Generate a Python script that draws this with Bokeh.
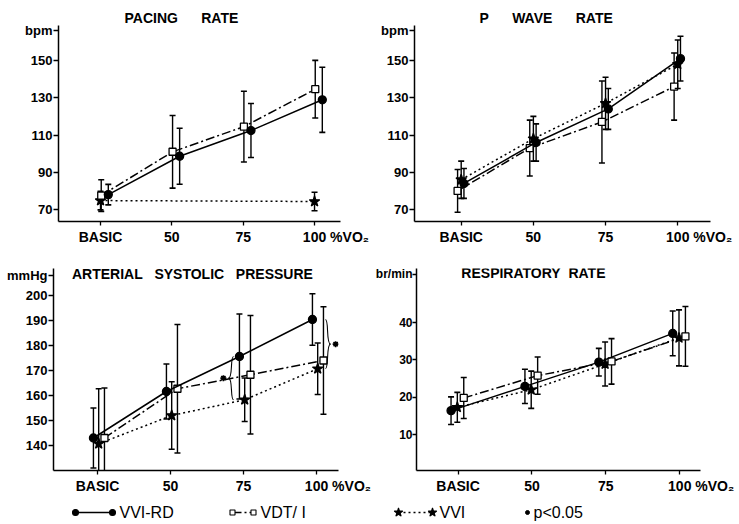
import numpy as np
from bokeh.plotting import figure
from bokeh.layouts import column, row
from bokeh.models import FixedTicker, Label, Range1d, ColumnDataSource
from bokeh.core.properties import value
from bokeh.embed import file_html
from bokeh.resources import INLINE

# ---------------- data ----------------
categories = ["BASIC", "50", "75", "100"]
vvi_pacing_categories = ["BASIC", "100"]

pacing_vvird = [78, 98.6, 112.4, 128.9]
pacing_vvird_sd = [5.5, 15, 14.5, 17.5]
pacing_vdti = [77.5, 101, 114.5, 134.6]
pacing_vdti_sd = [8.5, 19.5, 19, 15.5]
pacing_vvi = [74.8, 74.3]
pacing_vvi_sd = [5, 5]

pwave_vvird = [84, 106, 124, 151]
pwave_vvird_sd = [8, 10, 11, 12]
pwave_vdti = [80, 103, 117, 136]
pwave_vdti_sd = [11.5, 15, 22, 18]
pwave_vvi = [86, 108, 127, 148]
pwave_vvi_sd = [10, 12, 14, 13]

pressure_vvird = [143, 161.6, 175.6, 190.4]
pressure_vvird_sd = [12, 11, 17, 10.3]
pressure_vdti = [143, 162.7, 168.3, 174]
pressure_vdti_sd = [20, 25.7, 23.7, 21.5]
pressure_vvi = [140.7, 152, 158.3, 170.7]
pressure_vvi_sd = [22, 13.5, 8.7, 10.3]
pressure_sig_categories = ["75", "100"]

resp_vvird = [16.4, 22.9, 29.4, 37.1]
resp_vvird_sd = [3.7, 4.6, 3.7, 6]
resp_vdti = [19.8, 25.8, 29.6, 36.3]
resp_vdti_sd = [5.5, 5, 6.1, 8]
resp_vvi = [17.3, 22, 28.9, 35.9]
resp_vvi_sd = [4, 5, 5.9, 7.5]

# ---------------- style ----------------
FONT = "Liberation Sans"
STYLE = {
    "vvird": dict(marker="circle", size=8, fill="black", dash="solid"),
    "vdti": dict(marker="square", size=7, fill="white", dash="9 3 2 3"),
    "vvi": dict(marker="star", size=11, fill="black", dash="2 3"),
}
NB = "\u00a0"
FIG = "\u2007"
LAST_LABEL = FIG * 5 + NB + categories[-1] + NB + "%VO\u2082"


def make_panel(width, height, borders, xr, yr, yticks, unit, unit_tick, yfont="13px",
               ytick_out=5, ystandoff=1):
    left, right, top, bottom = borders
    p = figure(width=width, height=height, output_backend="svg", toolbar_location=None,
               x_range=Range1d(*xr), y_range=Range1d(*yr),
               min_border_left=left, min_border_right=right,
               min_border_top=top, min_border_bottom=bottom)
    p.grid.visible = False
    p.outline_line_color = None
    p.background_fill_color = "white"
    p.border_fill_color = "white"
    for ax in (p.xaxis[0], p.yaxis[0]):
        ax.axis_line_width = 1.5
        ax.axis_line_color = "black"
        ax.major_tick_line_color = "black"
        ax.major_tick_line_width = 1.3
        ax.major_tick_in = 0
        ax.minor_tick_line_color = None
        ax.major_label_text_font = FONT
        ax.major_label_text_font_style = "bold"
        ax.major_label_text_color = "black"
    p.xaxis.major_label_text_font_size = "14px"
    p.yaxis.major_label_text_font_size = yfont
    p.xaxis.ticker = FixedTicker(ticks=list(range(len(categories))))
    overrides = {i: c for i, c in enumerate(categories)}
    overrides[len(categories) - 1] = LAST_LABEL
    p.xaxis.major_label_overrides = overrides
    p.xaxis.major_tick_out = 4
    p.xaxis.major_label_standoff = 3
    p.yaxis.ticker = FixedTicker(ticks=list(yticks) + [unit_tick])
    p.yaxis.major_label_overrides = {unit_tick: unit}
    p.yaxis.major_tick_out = ytick_out
    p.yaxis.major_label_standoff = ystandoff
    return p


def set_title(p, text, offset):
    p.title.text = text
    p.title.align = "left"
    p.title.offset = offset
    p.title.standoff = 0
    p.title.text_font = FONT
    p.title.text_font_size = "14px"
    p.title.text_font_style = "bold"
    p.title.text_color = "black"


def plot_series(p, cats, vals, sds, offset, key):
    st = STYLE[key]
    x = np.array([categories.index(c) for c in cats], dtype=float) + offset
    v = np.array(vals, dtype=float)
    s = np.array(sds, dtype=float)
    src = ColumnDataSource(dict(x=x, y=v, lo=v - s, hi=v + s))
    p.segment(x0="x", y0="lo", x1="x", y1="hi", source=src, line_color="black", line_width=1.4)
    p.scatter(x="x", y="hi", source=src, marker="dash", size=6, line_color="black", line_width=1.6)
    p.scatter(x="x", y="lo", source=src, marker="dash", size=6, line_color="black", line_width=1.6)
    p.line(x="x", y="y", source=src, line_color="black", line_width=1.5, line_dash=st["dash"])
    p.scatter(x="x", y="y", source=src, marker=st["marker"], size=st["size"],
              fill_color=st["fill"], line_color="black", line_width=1.3)


# ---- panel 1: pacing rate
p1 = make_panel(378, 258, (58, 38, 25, 37), (-0.589, 3.364), (63.56, 168.8),
                [70, 90, 110, 130, 150], "bpm", 166)
set_title(p1, "PACING" + NB * 6 + "RATE", 66)
plot_series(p1, vvi_pacing_categories, pacing_vvi, pacing_vvi_sd, 0.0, "vvi")
plot_series(p1, categories, pacing_vdti, pacing_vdti_sd, 0.01, "vdti")
plot_series(p1, categories, pacing_vvird, pacing_vvird_sd, 0.109, "vvird")

# ---- panel 2: p wave rate
p2 = make_panel(361, 258, (34, 29, 25, 37), (-0.647, 3.454), (63.56, 168.8),
                [70, 90, 110, 130, 150], "bpm", 166)
set_title(p2, "P" + NB * 6 + "WAVE" + NB * 6 + "RATE", 65)
plot_series(p2, categories, pwave_vdti, pwave_vdti_sd, -0.05, "vdti")
plot_series(p2, categories, pwave_vvi, pwave_vvi_sd, 0.0, "vvi")
plot_series(p2, categories, pwave_vvird, pwave_vvird_sd, 0.038, "vvird")

# ---- panel 3: arterial systolic pressure
p3 = make_panel(372, 242, (53, 34, 10, 30), (-0.603, 3.301), (130, 210.8),
                [140, 150, 160, 170, 180, 190, 200], "mmHg", 208)
p3.add_layout(Label(x=1.30, y=208.8, text="ARTERIAL" + NB * 3 + "SYSTOLIC" + NB * 3 + "PRESSURE",
                    text_font=FONT, text_font_size="14px", text_font_style="bold",
                    text_align="center", text_baseline="middle", text_color="black"))
plot_series(p3, categories, pressure_vvi, pressure_vvi_sd, 0.016, "vvi")
plot_series(p3, categories, pressure_vdti, pressure_vdti_sd, 0.095, "vdti")
plot_series(p3, categories, pressure_vvird, pressure_vvird_sd, -0.056, "vvird")

# significance braces between VVI-RD and VVI
brace_side = {"75": (-0.164, -1), "100": (0.15, 1)}
for c in pressure_sig_categories:
    i = categories.index(c)
    dx, d = brace_side[c]
    xb = i + dx
    y_top = pressure_vvird[i]
    y_bot = pressure_vvi[i]
    ym = 0.5 * (y_top + y_bot)
    w = 0.07 * d
    p3.bezier(x0=[xb - 0.4 * w, xb + 0.6 * w], y0=[y_top, ym],
              x1=[xb + 0.6 * w, xb - 0.4 * w], y1=[ym, y_bot],
              cx0=[xb + 0.3 * w, xb - 0.3 * w], cy0=[y_top, ym],
              cx1=[xb - 0.3 * w, xb + 0.3 * w], cy1=[ym, y_bot],
              line_color="black", line_width=1.1)
    p3.scatter(x=[xb + 1.6 * w], y=[ym], marker="asterisk", size=6, line_color="black", line_width=1.6)

# ---- panel 4: respiratory rate
p4 = make_panel(367, 242, (41, 39, 10, 30), (-0.5625, 3.281), (0.36, 54.5),
                [10, 20, 30, 40], "br/min", 53, yfont="12px", ytick_out=4, ystandoff=0)
p4.add_layout(Label(x=1.02, y=53.3, text="RESPIRATORY" + NB * 2 + "RATE",
                    text_font=FONT, text_font_size="14px", text_font_style="bold",
                    text_align="center", text_baseline="middle", text_color="black"))
plot_series(p4, categories, resp_vvi, resp_vvi_sd, -0.01, "vvi")
plot_series(p4, categories, resp_vdti, resp_vdti_sd, 0.077, "vdti")
plot_series(p4, categories, resp_vvird, resp_vvird_sd, -0.095, "vvird")

# ---- legend strip
leg = figure(width=739, height=24, output_backend="svg", toolbar_location=None,
             x_range=Range1d(0, 739), y_range=Range1d(0, 24),
             x_axis_type=None, y_axis_type=None, min_border=0)
leg.grid.visible = False
leg.outline_line_color = None
legend_items = [("vvird", "VVI-RD", 75, 112), ("vdti", "VDT/ I", 232, 253), ("vvi", "VVI", 398, 432)]
for key, name, xa, xb in legend_items:
    st = STYLE[key]
    leg.line(x=[xa, xb], y=[12, 12], line_color="black", line_width=1.4, line_dash=st["dash"])
    leg.scatter(x=[xa, xb], y=[12, 12], marker=st["marker"], size=st["size"] - 2,
                fill_color=st["fill"], line_color="black", line_width=1.1)
    leg.text(x=[xb + 7], y=[12], text=[name], text_font=value(FONT), text_font_size="16px",
             text_baseline="middle", text_align="left", text_color="black")
leg.scatter(x=[527], y=[12], marker="circle", size=4, fill_color="black", line_color="black")
leg.text(x=[533], y=[12], text=["p<0.05"], text_font=value(FONT), text_font_size="16px",
         text_baseline="middle", text_align="left", text_color="black")

layout = column(row(p1, p2), row(p3, p4), leg)
open("out.html", "w").write(file_html(layout, INLINE))
